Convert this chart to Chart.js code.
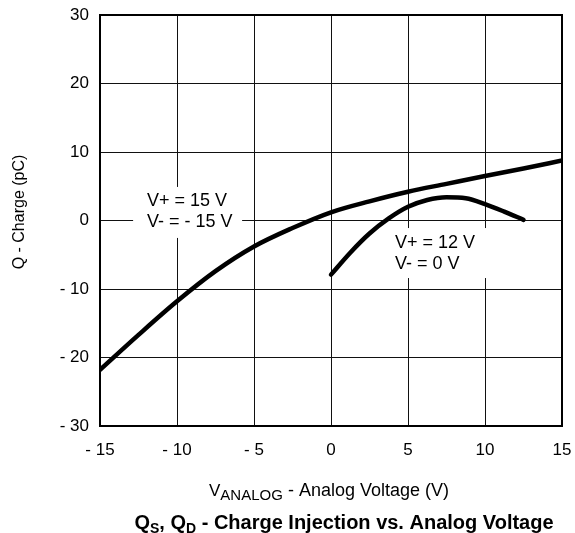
<!DOCTYPE html>
<html>
<head>
<meta charset="utf-8">
<script src="https://cdn.jsdelivr.net/npm/chart.js@4/dist/chart.umd.min.js"></script>
<style>
  html, body { margin: 0; padding: 0; background: #fff; }
  #wrap { width: 575px; height: 533px; }
</style>
</head>
<body>
<div id="wrap"><canvas id="qchart"></canvas></div>
<script>
// Analog voltage (V) and charge (pC)
const vSupply15 = [-15, -12.5, -10, -7.5, -5, -2.5, 0, 2.5, 5, 7.5, 10, 12.5, 15];
const qSupply15 = [-21.8, -16.7, -11.8, -7.4, -3.8, -1.1, 1.2, 2.8, 4.2, 5.35, 6.5, 7.6, 8.75];

const vSupply12 = [0, 1.25, 2.5, 3.75, 5, 6.25, 7.5, 8.75, 10, 11.25, 12.5];
const qSupply12 = [-7.9, -4.7, -1.9, 0.3, 2.0, 3.0, 3.4, 3.25, 2.4, 1.3, 0.1];

const xTicks = [-15, -10, -5, 0, 5, 10, 15];
const yTicks = [-30, -20, -10, 0, 10, 20, 30];

const toPoints = (xs, ys) => xs.map((x, i) => ({ x: x, y: ys[i] }));
const tickText = v => (v < 0 ? "- " + Math.abs(v) : String(v));

const FONT = "'Liberation Sans', Arial, Helvetica, sans-serif";

// text with subscript parts, centred at cx, on baseline y
function drawSub(ctx, parts, cx, y) {
  let total = 0;
  parts.forEach(p => {
    ctx.font = p.font;
    total += ctx.measureText(p.t).width;
  });
  let x = cx - total / 2;
  parts.forEach(p => {
    ctx.font = p.font;
    ctx.fillText(p.t, x, y + (p.dy || 0));
    x += ctx.measureText(p.t).width;
  });
}

const annotations = {
  id: "annotations",
  beforeDatasetsDraw(chart) {
    const { ctx, scales: { x, y } } = chart;
    ctx.save();
    ctx.fillStyle = "#fff";
    // white boxes behind the labels
    ctx.fillRect(x.getPixelForValue(-12.85), y.getPixelForValue(4.9), 109, 51);
    ctx.fillRect(x.getPixelForValue(3.8), y.getPixelForValue(-1.1), 100, 50);
    ctx.fillStyle = "#000";
    ctx.font = "18px " + FONT;
    ctx.textBaseline = "middle";
    ctx.textAlign = "left";
    ctx.fillText("V+ = 15 V", x.getPixelForValue(-11.95), y.getPixelForValue(2.9));
    ctx.fillText("V- = - 15 V", x.getPixelForValue(-11.95), y.getPixelForValue(-0.2));
    ctx.fillText("V+ = 12 V", x.getPixelForValue(4.15), y.getPixelForValue(-3.3));
    ctx.fillText("V- = 0 V", x.getPixelForValue(4.15), y.getPixelForValue(-6.35));
    ctx.restore();
  },
  afterDraw(chart) {
    const { ctx, chartArea: a } = chart;
    ctx.save();
    // plot frame
    ctx.strokeStyle = "#000";
    ctx.lineWidth = 2;
    ctx.strokeRect(a.left, a.top, a.right - a.left, a.bottom - a.top);

    ctx.fillStyle = "#000";
    ctx.textBaseline = "alphabetic";
    ctx.textAlign = "left";
    drawSub(ctx, [
      { t: "V", font: "17px " + FONT },
      { t: "ANALOG", font: "15px " + FONT, dy: 4 },
      { t: " - Analog Voltage (V)", font: "18px " + FONT }
    ], 329, 496);
    drawSub(ctx, [
      { t: "Q", font: "bold 20px " + FONT },
      { t: "S", font: "bold 14px " + FONT, dy: 4 },
      { t: ", Q", font: "bold 20px " + FONT },
      { t: "D", font: "bold 14px " + FONT, dy: 4 },
      { t: " - Charge Injection vs. Analog Voltage", font: "bold 20px " + FONT }
    ], 344, 529);

    // y axis title
    ctx.translate(20, 212);
    ctx.rotate(-Math.PI / 2);
    ctx.textAlign = "center";
    ctx.textBaseline = "middle";
    ctx.font = "16px " + FONT;
    ctx.fillText("Q - Charge (pC)", 0, 0);
    ctx.restore();
  }
};

const lineStyle = {
  borderColor: "#000",
  borderWidth: 4.5,
  pointRadius: 0,
  fill: false,
  tension: 0.4,
  cubicInterpolationMode: "monotone",
  borderCapStyle: "round"
};

new Chart(document.getElementById("qchart"), {
  type: "line",
  data: {
    datasets: [
      Object.assign({ label: "V+ = 15 V, V- = -15 V", data: toPoints(vSupply15, qSupply15) }, lineStyle),
      Object.assign({ label: "V+ = 12 V, V- = 0 V", data: toPoints(vSupply12, qSupply12) }, lineStyle)
    ]
  },
  options: {
    responsive: true,
    maintainAspectRatio: false,
    animation: false,
    layout: { padding: { left: 0, right: 13, top: 15, bottom: 0 } },
    plugins: { legend: { display: false }, tooltip: { enabled: false } },
    scales: {
      x: {
        type: "linear",
        min: -15,
        max: 15,
        afterBuildTicks: s => { s.ticks = xTicks.map(v => ({ value: v })); },
        afterFit: s => { s.height = 107; s.paddingLeft = 0; s.paddingRight = 0; },
        grid: { color: "#111", lineWidth: 1, drawTicks: false },
        border: { display: false },
        ticks: {
          padding: 14,
          color: "#000",
          font: { family: FONT, size: 17 },
          maxRotation: 0,
          callback: tickText
        }
      },
      y: {
        min: -30,
        max: 30,
        afterBuildTicks: s => { s.ticks = yTicks.map(v => ({ value: v })); },
        afterFit: s => { s.width = 100; s.paddingTop = 0; s.paddingBottom = 0; },
        grid: { color: "#111", lineWidth: 1, drawTicks: false },
        border: { display: false },
        ticks: {
          padding: 11,
          color: "#000",
          font: { family: FONT, size: 17 },
          callback: tickText
        }
      }
    }
  },
  plugins: [annotations]
});
</script>
</body>
</html>
